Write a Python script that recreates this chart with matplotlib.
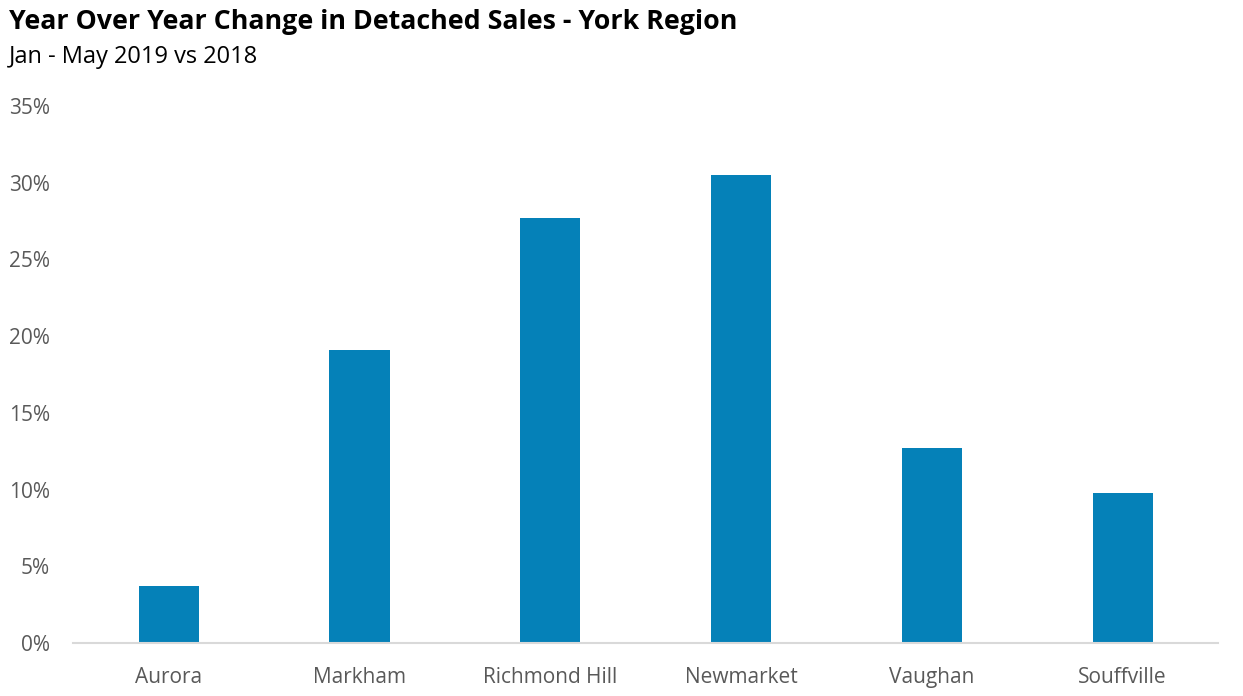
import matplotlib
matplotlib.use("Agg")
import matplotlib.pyplot as plt
from matplotlib.ticker import FuncFormatter

plt.rcParams['font.family'] = ['Open Sans', 'DejaVu Sans']

# Datos
ciudades = ["Aurora", "Markham", "Richmond Hill", "Newmarket", "Vaughan", "Souffville"]
cambio = [3.7, 19.1, 27.7, 30.5, 12.7, 9.8]
ticks_y = [0, 5, 10, 15, 20, 25, 30, 35]

fig = plt.figure(figsize=(12.43, 6.96), dpi=100)
ax = fig.add_axes([0.059, 0.076, 0.921, 0.772])

ax.bar(ciudades, cambio, width=0.315, color='#0581B8')
ax.set_ylim(0, 35)
ax.set_xlim(-0.5, len(ciudades) - 0.5)
ax.set_yticks(ticks_y)
ax.yaxis.set_major_formatter(FuncFormatter(lambda v, p: f"{v:.0f}%"))

for s in ['top', 'right', 'left']:
    ax.spines[s].set_visible(False)
ax.spines['bottom'].set_color('#D9D9D9')
ax.spines['bottom'].set_linewidth(1.5)
ax.tick_params(axis='both', length=0, labelsize=15, colors='#595959')
ax.tick_params(axis='x', pad=17)
ax.tick_params(axis='y', pad=17)

fig.text(0.007, 0.969, "Year Over Year Change in Detached Sales - York Region",
         fontsize=19.3, fontweight='bold', va='center', ha='left', color='black')
fig.text(0.007, 0.918, "Jan - May 2019 vs 2018", fontsize=17, va='center', ha='left', color='black')

fig.savefig("out.png", dpi=100)
